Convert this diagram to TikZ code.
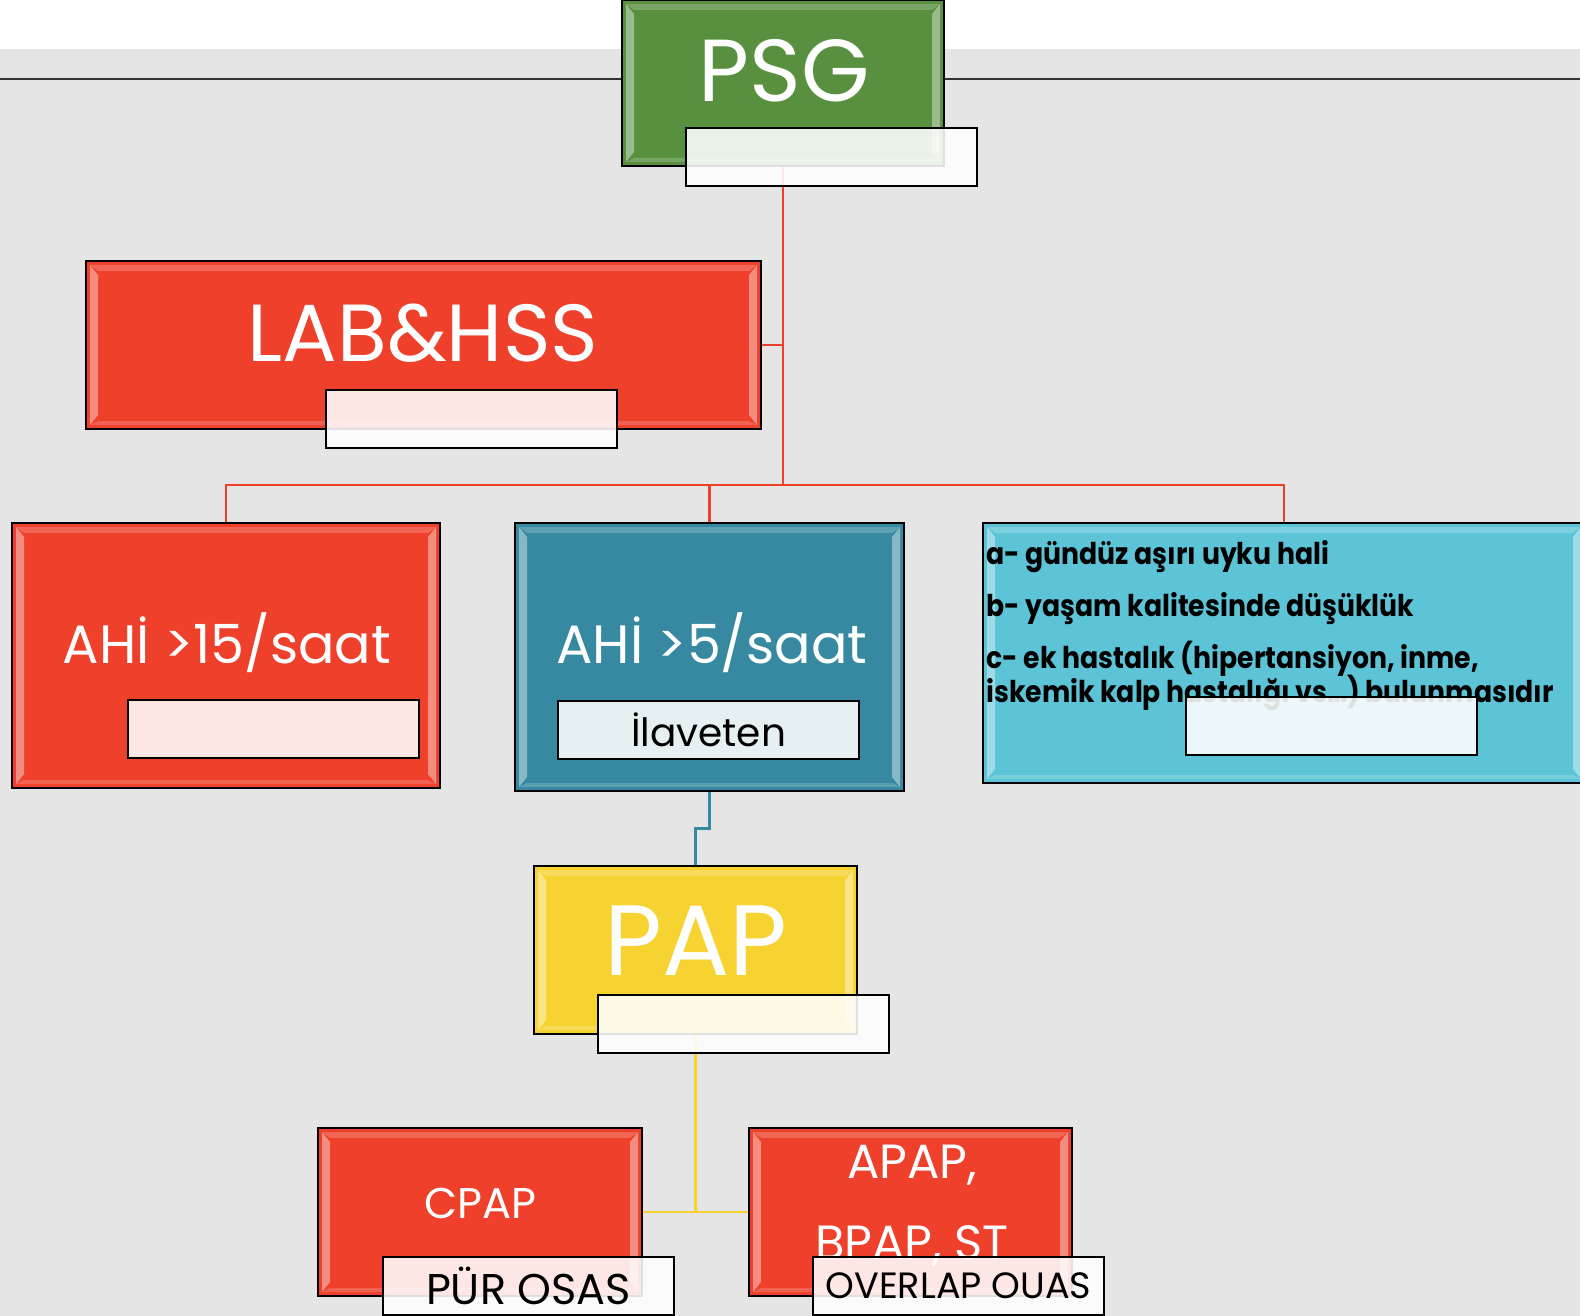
\documentclass[tikz,border=0pt]{standalone}
\usepackage{fontspec}
\setmainfont{Poppins}
\newfontfamily\cyanfont[FakeStretch=0.89]{Poppins}
\usetikzlibrary{calc}
\pgfdeclarelayer{bglayer}
\pgfdeclarelayer{connlayer}
\pgfsetlayers{bglayer,connlayer,main}
\definecolor{bggray}{HTML}{E5E5E5}
\definecolor{psggreen}{HTML}{589040}
\definecolor{boxred}{HTML}{EF402C}
\definecolor{boxteal}{HTML}{3689A0}
\definecolor{boxcyan}{HTML}{5CC4D6}
\definecolor{boxyellow}{HTML}{F7D331}
\tikzset{
  bevel/.style={path picture={
    \fill[white,opacity=0.4] ([shift={(2pt,-2pt)}]path picture bounding box.north west) -- ([shift={(6pt,-7pt)}]path picture bounding box.north west) -- ([shift={(6pt,7pt)}]path picture bounding box.south west) -- ([shift={(2pt,2pt)}]path picture bounding box.south west) -- cycle;
    \fill[white,opacity=0.4] ([shift={(-2pt,-2pt)}]path picture bounding box.north east) -- ([shift={(-6pt,-7pt)}]path picture bounding box.north east) -- ([shift={(-6pt,7pt)}]path picture bounding box.south east) -- ([shift={(-2pt,2pt)}]path picture bounding box.south east) -- cycle;
    \fill[white,opacity=0.2] ([shift={(2pt,-2pt)}]path picture bounding box.north west) -- ([shift={(-2pt,-2pt)}]path picture bounding box.north east) -- ([shift={(-6pt,-5pt)}]path picture bounding box.north east) -- ([shift={(6pt,-5pt)}]path picture bounding box.north west) -- cycle;
    \fill[white,opacity=0.18] ([shift={(2pt,2pt)}]path picture bounding box.south west) -- ([shift={(-2pt,2pt)}]path picture bounding box.south east) -- ([shift={(-6pt,4pt)}]path picture bounding box.south east) -- ([shift={(6pt,4pt)}]path picture bounding box.south west) -- cycle;
  }},
  box/.style={draw=black, line width=1pt, rectangle, inner sep=0pt, bevel},
  lbl/.style={draw=black, line width=1pt, fill=white, fill opacity=0.88, text opacity=1, text=black, inner sep=0pt, minimum width=145.5pt, minimum height=29pt},
  wtxt/.style={text=white, inner sep=0pt, anchor=base},
  btxt/.style={text=black, inner sep=0pt, anchor=base west, font=\cyanfont\bfseries\fontsize{15}{18}\selectfont},
  redline/.style={draw=boxred, line width=1.4pt},
  tealline/.style={draw=boxteal, line width=1.3pt},
  yelline/.style={draw=boxyellow, line width=1.3pt},
}
\begin{document}
\begin{tikzpicture}[x=0.5pt,y=-0.5pt]
\useasboundingbox (0,0) rectangle (1580,1316);
\begin{pgfonlayer}{bglayer}
\fill[white] (0,0) rectangle (1580,49);
\fill[bggray] (0,49) rectangle (1580,1316);
\draw[line width=0.8pt, black!80] (0,79) -- (1580,79);
\end{pgfonlayer}

% boxes
\node[box, fill=psggreen, minimum width=161pt, minimum height=83pt] (psg) at (783,83) {};
\coordinate (hub) at (783,485);
\node[box, fill=boxred, minimum width=337.5pt, minimum height=84pt] (lab) at (423.5,345) {};
\node[box, fill=boxred, minimum width=214pt, minimum height=132.5pt] (ahi15) at (226,655.5) {};
\node[box, fill=boxteal, minimum width=194.5pt, minimum height=134pt] (ahi5) at (709.5,657) {};
\node[box, fill=boxcyan, minimum width=301pt, minimum height=130pt] (cyan) at (1284,653) {};
\node[box, fill=boxyellow, minimum width=161.5pt, minimum height=84pt] (pap) at (695.5,950) {};
\node[box, fill=boxred, minimum width=162pt, minimum height=84pt] (cpap) at (480,1212) {};
\node[box, fill=boxred, minimum width=161.5pt, minimum height=84pt] (apap) at (910.5,1212) {};

% connectors
\begin{pgfonlayer}{connlayer}
\draw[redline] (psg.south) -- (hub);
\draw[redline] (lab.east) -- (lab.east -| psg.south);
\draw[redline] (hub) -| (ahi15.north);
\draw[redline] (hub) -| (ahi5.north);
\draw[redline] (hub) -| (cyan.north);
\draw[tealline] (ahi5.south) |- ($(ahi5.south)!0.5!(pap.north)$) -| (pap.north);
\draw[yelline] (pap.south) -- (pap.south |- cpap.east);
\draw[yelline] (cpap.east) -- (apap.west);
\end{pgfonlayer}

% texts
\node[wtxt, font=\fontsize{44}{50}\selectfont] (psgt) at (784,102) {PSG};
\node[wtxt, font=\fontsize{40.5}{46}\selectfont] (labt) at (423,362) {LAB\&HSS};
\node[wtxt, font=\fontsize{27}{32}\selectfont] (ahi15t) at (227,663) {AHİ >15/saat};
\node[wtxt, font=\fontsize{27}{32}\selectfont] (ahi5t) at (712,663) {AHİ >5/saat};
\node[wtxt, font=\fontsize{50}{56}\selectfont] (papt) at (696,975) {PAP};
\node[wtxt, font=\fontsize{21.5}{26}\selectfont] (cpapt) at (480,1218) {CPAP};
\node[wtxt, font=\fontsize{24}{28}\selectfont] (apapt) at (912,1178) {APAP,};
\node[wtxt, font=\fontsize{24}{28}\selectfont] (bpapt) at (912,1259) {BPAP, ST};
\node[btxt] (ca) at (986,564) {a- gündüz aşırı uyku hali};
\node[btxt] (cb) at (986,616) {b- yaşam kalitesinde düşüklük};
\node[btxt] (cc) at (986,668) {c- ek hastalık (hipertansiyon, inme,};
\node[btxt] (cd) at (986,702) {iskemik kalp hastalığı vs…) bulunmasıdır};

% label boxes
\node[lbl] (psgl) at (831.5,157) {};
\node[lbl] (labl) at (471.5,418.5) {};
\node[lbl] (ahi15l) at (273.5,729) {};
\node[lbl, minimum width=150.5pt, font=\fontsize{19.5}{22}\selectfont] (ahi5l) at (708.5,730) {İlaveten};
\node[lbl] (cyanl) at (1331.5,726) {};
\node[lbl] (papl) at (743,1024) {};
\node[lbl, font=\fontsize{21.5}{24}\selectfont] (cpapl) at (528.5,1286) {PÜR OSAS};
\node[lbl, font=\fontsize{18.3}{22}\selectfont] (apapl) at (958.5,1286) {OVERLAP OUAS};
\end{tikzpicture}
\end{document}
